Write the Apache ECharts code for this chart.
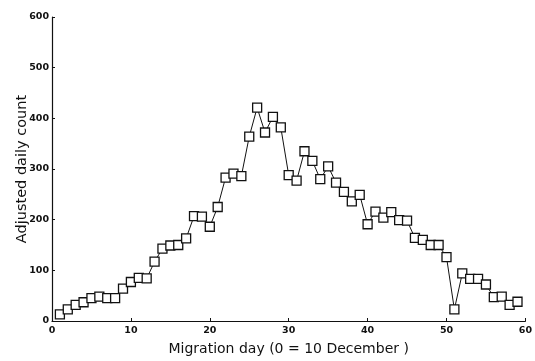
<!DOCTYPE html>
<html><head><meta charset="utf-8">
<script src="https://cdn.jsdelivr.net/npm/echarts@6/dist/echarts.min.js"></script>
<style>html,body{margin:0;padding:0;background:#fff}#c{width:535px;height:361px}</style>
</head><body><div id="c"></div>
<script>
var days = [1,2,3,4,5,6,7,8,9,10,11,12,13,14,15,16,17,18,19,20,21,22,23,24,25,26,27,28,29,30,31,32,33,34,35,36,37,38,39,40,41,42,43,44,45,46,47,48,49,50,51,52,53,54,55,56,57,58,59];
var counts = [13,23,32,37,45,48,45,45,64,77,85,84,117,143,149,150,163,207,206,186,225,283,291,286,364,421,372,403,382,288,277,335,316,280,305,273,255,236,249,191,216,204,215,199,198,164,160,150,150,126,23,94,83,83,72,47,48,32,38];
var xTicks = [0,10,20,30,40,50,60];
var yTicks = [0,100,200,300,400,500,600];
var xTitle = 'Migration day (0 = 10 December )';
var yTitle = 'Adjusted daily count';

var chart = echarts.init(document.getElementById('c'));
var pts = days.map(function(d,i){return [d, counts[i]];});
chart.setOption({
  animation:false,
  grid:{left:52,right:6,top:17,bottom:37},
  xAxis:{type:'value',min:0,max:60,interval:10,
    name:xTitle,nameLocation:'middle',nameGap:21,
    nameTextStyle:{fontFamily:'DejaVu Sans',fontSize:14,color:'#111'},
    axisLine:{lineStyle:{color:'#111',width:1.2}},
    axisTick:{inside:true,length:3,lineStyle:{color:'#111'}},
    axisLabel:{fontFamily:'DejaVu Sans',fontSize:9.5,fontWeight:'bold',color:'#111',margin:5},
    splitLine:{show:false}},
  yAxis:{type:'value',min:0,max:600,interval:100,
    name:yTitle,nameLocation:'middle',nameGap:22,nameMoveOverlap:false,
    nameTextStyle:{fontFamily:'DejaVu Sans',fontSize:14.5,color:'#111'},
    axisLine:{show:true,lineStyle:{color:'#111',width:1.2}},
    axisTick:{show:true,inside:true,length:3,lineStyle:{color:'#111'}},
    axisLabel:{fontFamily:'DejaVu Sans',fontSize:9.5,fontWeight:'bold',color:'#111',margin:3},
    splitLine:{show:false}},
  series:[{type:'line',data:pts,symbol:'rect',symbolSize:9,
    lineStyle:{color:'#111',width:1},
    itemStyle:{color:'#fff',borderColor:'#111',borderWidth:1.3}}]
});
</script></body></html>
